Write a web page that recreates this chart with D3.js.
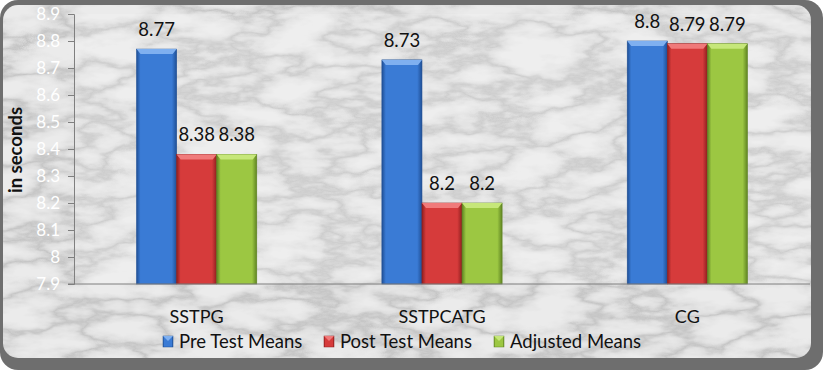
<!DOCTYPE html>
<html><head><meta charset="utf-8">
<script src="https://cdn.jsdelivr.net/npm/d3@7"></script>
<style>html,body{margin:0;padding:0;background:#fff;}svg{display:block;}</style>
</head><body><svg id="c" width="823" height="370"></svg>
<script>
const categories = ["SSTPG", "SSTPCATG", "CG"];
const seriesNames = ["Pre Test Means", "Post Test Means", "Adjusted Means"];
const preTest = [8.77, 8.73, 8.8];
const postTest = [8.38, 8.2, 8.79];
const adjusted = [8.38, 8.2, 8.79];
const yTicks = [7.9, 8, 8.1, 8.2, 8.3, 8.4, 8.5, 8.6, 8.7, 8.8, 8.9];
const colors = ["#3a7bd5", "#d63b3b", "#9cc742"];
const darkColors = ["#1f4f95", "#8f1f1f", "#5f8422"];
const lightColors = ["#7fb0f0", "#f07a7a", "#c6e77a"];

const series = [preTest, postTest, adjusted];
const svg = d3.select("#c");
const W = 823, H = 370;
const font = "Lato, 'Open Sans', sans-serif";

const defs = svg.append("defs");
// marble texture
const f = defs.append("filter").attr("id","marble").attr("x",0).attr("y",0).attr("width","100%").attr("height","100%");
f.append("feTurbulence").attr("type","fractalNoise").attr("baseFrequency","0.012 0.03").attr("numOctaves",5).attr("seed",11).attr("result","n");
f.append("feColorMatrix").attr("in","n").attr("type","matrix")
 .attr("values","0 0 0 0 0  0 0 0 0 0  0 0 0 0 0  -1.6 0 0 0 1.3").attr("result","a");
f.append("feComponentTransfer").attr("in","a").attr("result","b")
 .append("feFuncA").attr("type","table").attr("tableValues","0 0 0.02 0.06 0.16 0.06 0.02 0 0");

const clip = defs.append("clipPath").attr("id","inner");
clip.append("rect").attr("x",3).attr("y",5).attr("width",808).attr("height",353).attr("rx",15);

// frame
svg.append("rect").attr("x",0).attr("y",0).attr("width",W).attr("height",H).attr("fill","#fff");
svg.append("rect").attr("x",0).attr("y",0).attr("width",W).attr("height",H).attr("rx",18).attr("fill","#6e6e6e");
svg.append("rect").attr("x",3).attr("y",5).attr("width",808).attr("height",353).attr("rx",15).attr("fill","#ebebeb");
svg.append("rect").attr("x",3).attr("y",5).attr("width",808).attr("height",353).attr("rx",15)
  .attr("fill","#444").attr("filter","url(#marble)").attr("clip-path","url(#inner)");

const m = {left:74, right:810, top:14, bottom:284};
const x0 = d3.scaleBand().domain(categories).range([m.left, m.right]).padding(0);
const y = d3.scaleLinear().domain([7.9, 8.9]).range([m.bottom, m.top]);
const barW = x0.bandwidth() * 0.49 / 3;
const x1 = d3.scaleBand().domain(seriesNames).range([0, barW*3]).padding(0);

// plot area
svg.append("rect").attr("x",m.left).attr("y",m.top).attr("width",m.right-m.left).attr("height",m.bottom-m.top)
  .attr("fill","#fff").attr("fill-opacity",0.15);

// gradients
colors.forEach((c,i)=>{
  const g = defs.append("linearGradient").attr("id","g"+i).attr("x1",0).attr("x2",1).attr("y1",0).attr("y2",0);
  g.append("stop").attr("offset","0%").attr("stop-color",darkColors[i]);
  g.append("stop").attr("offset","10%").attr("stop-color",c);
  g.append("stop").attr("offset","88%").attr("stop-color",c);
  g.append("stop").attr("offset","100%").attr("stop-color",darkColors[i]);
});

const data = [];
categories.forEach((cat,ci)=>{
  series.forEach((s,si)=>{ data.push({cat, si, name:seriesNames[si], v:s[ci]}); });
});

const bars = svg.append("g");
data.forEach(d=>{
  const bx = x0(d.cat) + (x0.bandwidth()-barW*3)/2 + x1(d.name);
  const by = y(d.v), bh = y(7.9) - y(d.v), bw = x1.bandwidth();
  bars.append("rect").attr("x",bx).attr("y",by).attr("width",bw).attr("height",bh)
    .attr("fill",`url(#g${d.si})`).attr("stroke",darkColors[d.si]).attr("stroke-width",0.6);
  bars.append("path").attr("d",`M${bx},${by}L${bx+bw},${by}L${bx+bw-4},${by+5}L${bx+4},${by+5}Z`)
    .attr("fill",lightColors[d.si]);
  svg.append("text").attr("x",bx+bw/2).attr("y",by-13).attr("text-anchor","middle")
    .attr("font-family",font).attr("font-size",18.5).attr("fill","#111").text(d.v);
});

// axes
const yAxis = svg.append("g").attr("transform",`translate(${m.left},0)`)
  .call(d3.axisLeft(y).tickValues(yTicks).tickSize(6).tickPadding(8).tickFormat(d=>d3.format("")(+d.toFixed(1))));
yAxis.select(".domain").attr("stroke","#7f7f7f");
yAxis.selectAll(".tick line").attr("stroke","#7f7f7f");
yAxis.selectAll("text").attr("fill","#ffffff").attr("font-family",font).attr("font-size",17);

svg.append("line").attr("x1",m.left-6).attr("x2",m.right).attr("y1",m.bottom).attr("y2",m.bottom).attr("stroke","#7f7f7f");

svg.append("text").attr("transform",`translate(22,${150}) rotate(-90)`)
  .attr("text-anchor","middle").attr("font-family",font).attr("font-weight","bold").attr("font-size",18.5)
  .attr("fill","#111").text("in seconds");

categories.forEach(c=>{
  svg.append("text").attr("x",x0(c)+x0.bandwidth()/2).attr("y",323).attr("text-anchor","middle")
    .attr("font-family",font).attr("font-size",18).attr("fill","#111").text(c);
});

// legend
const legX = [163, 324, 494];
seriesNames.forEach((n,i)=>{
  const g = svg.append("g").attr("transform",`translate(${legX[i]},336)`);
  g.append("rect").attr("x",0).attr("y",0).attr("width",10).attr("height",11).attr("fill",`url(#g${i})`).attr("stroke",darkColors[i]).attr("stroke-width",0.5);
  g.append("path").attr("d","M0,0L10,0L5,5Z").attr("fill",lightColors[i]);
  g.append("text").attr("x",16).attr("y",12).attr("font-family",font).attr("font-size",18.5).attr("fill","#111").text(n);
});
</script></body></html>
